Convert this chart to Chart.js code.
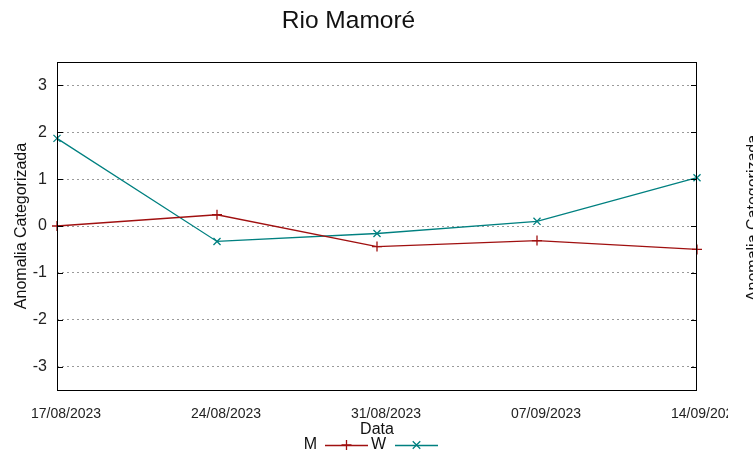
<!DOCTYPE html>
<html>
<head>
<meta charset="utf-8">
<script src="https://cdn.jsdelivr.net/npm/chart.js@4.4.1/dist/chart.umd.min.js"></script>
<style>
  html, body { margin: 0; padding: 0; background: #fff; }
</style>
</head>
<body>
<canvas id="chart" width="753" height="459"></canvas>
<script>
const dates = ["17/08/2023", "24/08/2023", "31/08/2023", "07/09/2023", "14/09/2023"];
const mValues = [0.0, 0.24, -0.44, -0.31, -0.50];
const wValues = [1.87, -0.33, -0.16, 0.10, 1.03];
const yTicks = [-3, -2, -1, 0, 1, 2, 3];

const FONT = "'Liberation Sans', Arial, sans-serif";

// frame, tick marks, axis titles and the gnuplot-style key
const gnuplotBits = {
  id: "gnuplotBits",
  afterDraw(chart) {
    const ctx = chart.ctx;
    const a = chart.chartArea;
    const y = chart.scales.y;
    ctx.save();

    // the panel ends before the canvas does: last date label is cut there
    ctx.fillStyle = "#fff";
    ctx.fillRect(728, a.bottom + 2, 25, 30);

    ctx.strokeStyle = "#000";
    ctx.lineWidth = 1;
    ctx.strokeRect(a.left + 0.5, a.top + 0.5, a.right - a.left - 1, a.bottom - a.top);
    yTicks.forEach(v => {
      const py = Math.round(y.getPixelForValue(v)) + 0.5;
      ctx.beginPath();
      ctx.moveTo(a.left, py); ctx.lineTo(a.left + 6, py);
      ctx.moveTo(a.right, py); ctx.lineTo(a.right - 6, py);
      ctx.stroke();
    });

    ctx.fillStyle = "#111";
    ctx.font = "16px " + FONT;
    ctx.textAlign = "center";
    ctx.textBaseline = "middle";
    ctx.fillText("Data", 377, 430);

    // y title of the neighbouring panel, cut by the right edge
    ctx.save();
    ctx.translate(754, 218);
    ctx.rotate(-Math.PI / 2);
    ctx.fillText("Anomalia Categorizada", 0, 0);
    ctx.restore();

    // key
    const keys = [
      { textRight: 317, x0: 325, x1: 368 },
      { textRight: 386, x0: 395, x1: 438 }
    ];
    chart.data.datasets.forEach((ds, i) => {
      const k = keys[i];
      const ky = 445;
      ctx.fillStyle = "#111";
      ctx.textAlign = "right";
      ctx.fillText(ds.label, k.textRight, ky);
      ctx.strokeStyle = ds.borderColor;
      ctx.lineWidth = 1.3;
      ctx.beginPath();
      ctx.moveTo(k.x0, ky + 0.5); ctx.lineTo(k.x1, ky + 0.5);
      ctx.stroke();
      const cx = (k.x0 + k.x1) / 2, r = 5;
      ctx.beginPath();
      if (ds.pointStyle === "cross") {
        ctx.moveTo(cx, ky - r); ctx.lineTo(cx, ky + r);
        ctx.moveTo(cx - r, ky); ctx.lineTo(cx + r, ky);
      } else {
        const d = r * 0.75;
        ctx.moveTo(cx - d, ky - d); ctx.lineTo(cx + d, ky + d);
        ctx.moveTo(cx - d, ky + d); ctx.lineTo(cx + d, ky - d);
      }
      ctx.stroke();
    });
    ctx.restore();
  }
};

new Chart(document.getElementById("chart"), {
  type: "line",
  data: {
    labels: dates,
    datasets: [
      {
        label: "M",
        data: mValues,
        borderColor: "#a01010",
        backgroundColor: "#a01010",
        borderWidth: 1.3,
        pointStyle: "cross",
        pointRadius: 5,
        pointBorderWidth: 1.3,
        tension: 0
      },
      {
        label: "W",
        data: wValues,
        borderColor: "#008080",
        backgroundColor: "#008080",
        borderWidth: 1.3,
        pointStyle: "crossRot",
        pointRadius: 5,
        pointBorderWidth: 1.3,
        tension: 0
      }
    ]
  },
  options: {
    responsive: false,
    animation: false,
    devicePixelRatio: 1,
    layout: { padding: { top: 0, right: 56, bottom: 0, left: 0 } },
    plugins: {
      legend: { display: false },
      tooltip: { enabled: false },
      title: {
        display: true,
        text: "Rio Mamoré",
        color: "#111",
        font: { family: FONT, size: 24.5, weight: "normal" },
        padding: { top: 7, bottom: 25.6 }
      }
    },
    scales: {
      x: {
        type: "category",
        offset: false,
        grid: { display: false, drawTicks: false },
        border: { display: false },
        ticks: {
          color: "#222",
          font: { family: FONT, size: 14 },
          maxRotation: 0,
          autoSkip: false,
          padding: 16,
          labelOffset: 9
        },
        afterFit(scale) {
          scale.height = 69;
          scale.paddingLeft = 0;
          scale.paddingRight = 0;
        }
      },
      y: {
        min: -3.5,
        max: 3.5,
        afterBuildTicks(scale) {
          scale.ticks = yTicks.map(v => ({ value: v }));
        },
        grid: {
          color: "#9a9a9a",
          lineWidth: 1,
          drawTicks: false
        },
        border: { display: false, dash: [2, 3] },
        ticks: {
          color: "#222",
          font: { family: FONT, size: 16 },
          padding: 10
        },
        title: {
          display: true,
          text: "Anomalia Categorizada",
          color: "#111",
          font: { family: FONT, size: 16 },
          padding: { top: 12, bottom: 0 }
        },
        afterFit(scale) {
          scale.width = 57;
          scale.paddingTop = 0;
          scale.paddingBottom = 0;
        }
      }
    }
  },
  plugins: [gnuplotBits]
});
</script>
</body>
</html>
